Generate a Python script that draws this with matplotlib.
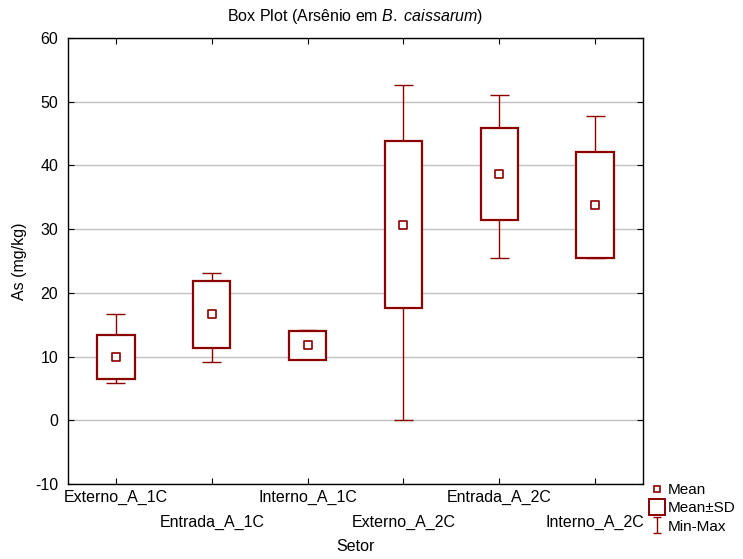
"""Box plot of arsenic in B. caissarum by sector (mean, mean±SD, min-max)."""

import matplotlib

matplotlib.use("Agg")
import matplotlib.pyplot as plt
from matplotlib.lines import Line2D
from matplotlib.path import Path

plt.rcParams["font.family"] = ["Liberation Sans", "DejaVu Sans"]
plt.rcParams["mathtext.fontset"] = "custom"
plt.rcParams["mathtext.rm"] = "Liberation Sans"
plt.rcParams["mathtext.it"] = "Liberation Sans:italic"
plt.rcParams["axes.unicode_minus"] = False

SECTORS = [
    "Externo_A_1C",
    "Entrada_A_1C",
    "Interno_A_1C",
    "Externo_A_2C",
    "Entrada_A_2C",
    "Interno_A_2C",
]
MEANS = [9.95, 16.6, 11.75, 30.7, 38.7, 33.75]
SDS = [3.4, 5.2, 2.3, 13.1, 7.2, 8.3]
MINS = [5.85, 9.15, 9.6, 0.0, 25.4, 25.5]
MAXS = [16.75, 23.1, 14.2, 52.6, 51.1, 47.7]

COLOR = "#8b0000"
FONT_SIZE = 11.5


def main() -> None:
    figure = plt.figure(figsize=(7.43, 5.59), dpi=100)
    axis = figure.add_axes((0.0915, 0.1342, 0.774, 0.798))

    positions = list(range(len(SECTORS)))
    box_width = 0.39
    cap_width = 0.2

    # whiskers (min-max) sit behind the white-filled boxes
    axis.vlines(positions, MINS, MAXS, color=COLOR, linewidth=1.0, zorder=2)
    axis.hlines(MINS, [p - cap_width / 2 for p in positions],
                [p + cap_width / 2 for p in positions], color=COLOR, linewidth=1.0, zorder=2)
    axis.hlines(MAXS, [p - cap_width / 2 for p in positions],
                [p + cap_width / 2 for p in positions], color=COLOR, linewidth=1.0, zorder=2)

    lows = [m - s for m, s in zip(MEANS, SDS)]
    heights = [2 * s for s in SDS]
    axis.bar(positions, heights, bottom=lows, width=box_width, facecolor="white",
             edgecolor=COLOR, linewidth=1.6, zorder=3)
    axis.scatter(positions, MEANS, marker="s", s=30, facecolor="white",
                 edgecolor=COLOR, linewidth=1.2, zorder=4)

    axis.set_xlim(-0.5, len(SECTORS) - 0.5)
    axis.set_ylim(-10, 60)
    axis.set_yticks(range(-10, 61, 10))
    axis.set_xticks(positions)
    axis.set_xticklabels(SECTORS)
    axis.yaxis.grid(True, color="#c0c0c0", linewidth=1.0)
    axis.set_axisbelow(True)
    axis.tick_params(direction="in", top=True, right=True, labelsize=FONT_SIZE,
                     length=4)
    axis.tick_params(axis="y", pad=7)
    axis.tick_params(axis="x", pad=4)
    for index, tick in enumerate(axis.xaxis.get_major_ticks()):
        if index % 2 == 1:
            tick.set_pad(22)
    for spine in axis.spines.values():
        spine.set_linewidth(1.0)

    axis.set_xlabel("Setor", fontsize=FONT_SIZE, labelpad=7)
    axis.set_ylabel("As (mg/kg)", fontsize=FONT_SIZE, labelpad=6)
    axis.set_title(r"Box Plot (Arsênio em $\mathit{B.\ caissarum}$)",
                   fontsize=FONT_SIZE, pad=12)

    ibeam = Path(
        [(-0.5, -1), (0.5, -1), (0, -1), (0, 1), (-0.5, 1), (0.5, 1)],
        [Path.MOVETO, Path.LINETO, Path.MOVETO, Path.LINETO, Path.MOVETO, Path.LINETO],
    )
    handles = [
        Line2D([], [], linestyle="none", marker="s", markersize=5,
               markerfacecolor="white", markeredgecolor=COLOR, markeredgewidth=1.2),
        Line2D([], [], linestyle="none", marker="s", markersize=12,
               markerfacecolor="white", markeredgecolor=COLOR, markeredgewidth=1.4),
        Line2D([], [], linestyle="none", marker=ibeam, markersize=11,
               markeredgecolor=COLOR, markeredgewidth=1.0),
    ]
    figure.legend(handles, ["Mean", "Mean±SD", "Min-Max"], loc="upper left",
                  bbox_to_anchor=(0.861, 0.155), frameon=False, fontsize=11,
                  handlelength=0.9, handletextpad=0.25, labelspacing=0.28,
                  borderpad=0.2)

    figure.savefig("out.png", dpi=100)
    plt.close(figure)


if __name__ == "__main__":
    main()
